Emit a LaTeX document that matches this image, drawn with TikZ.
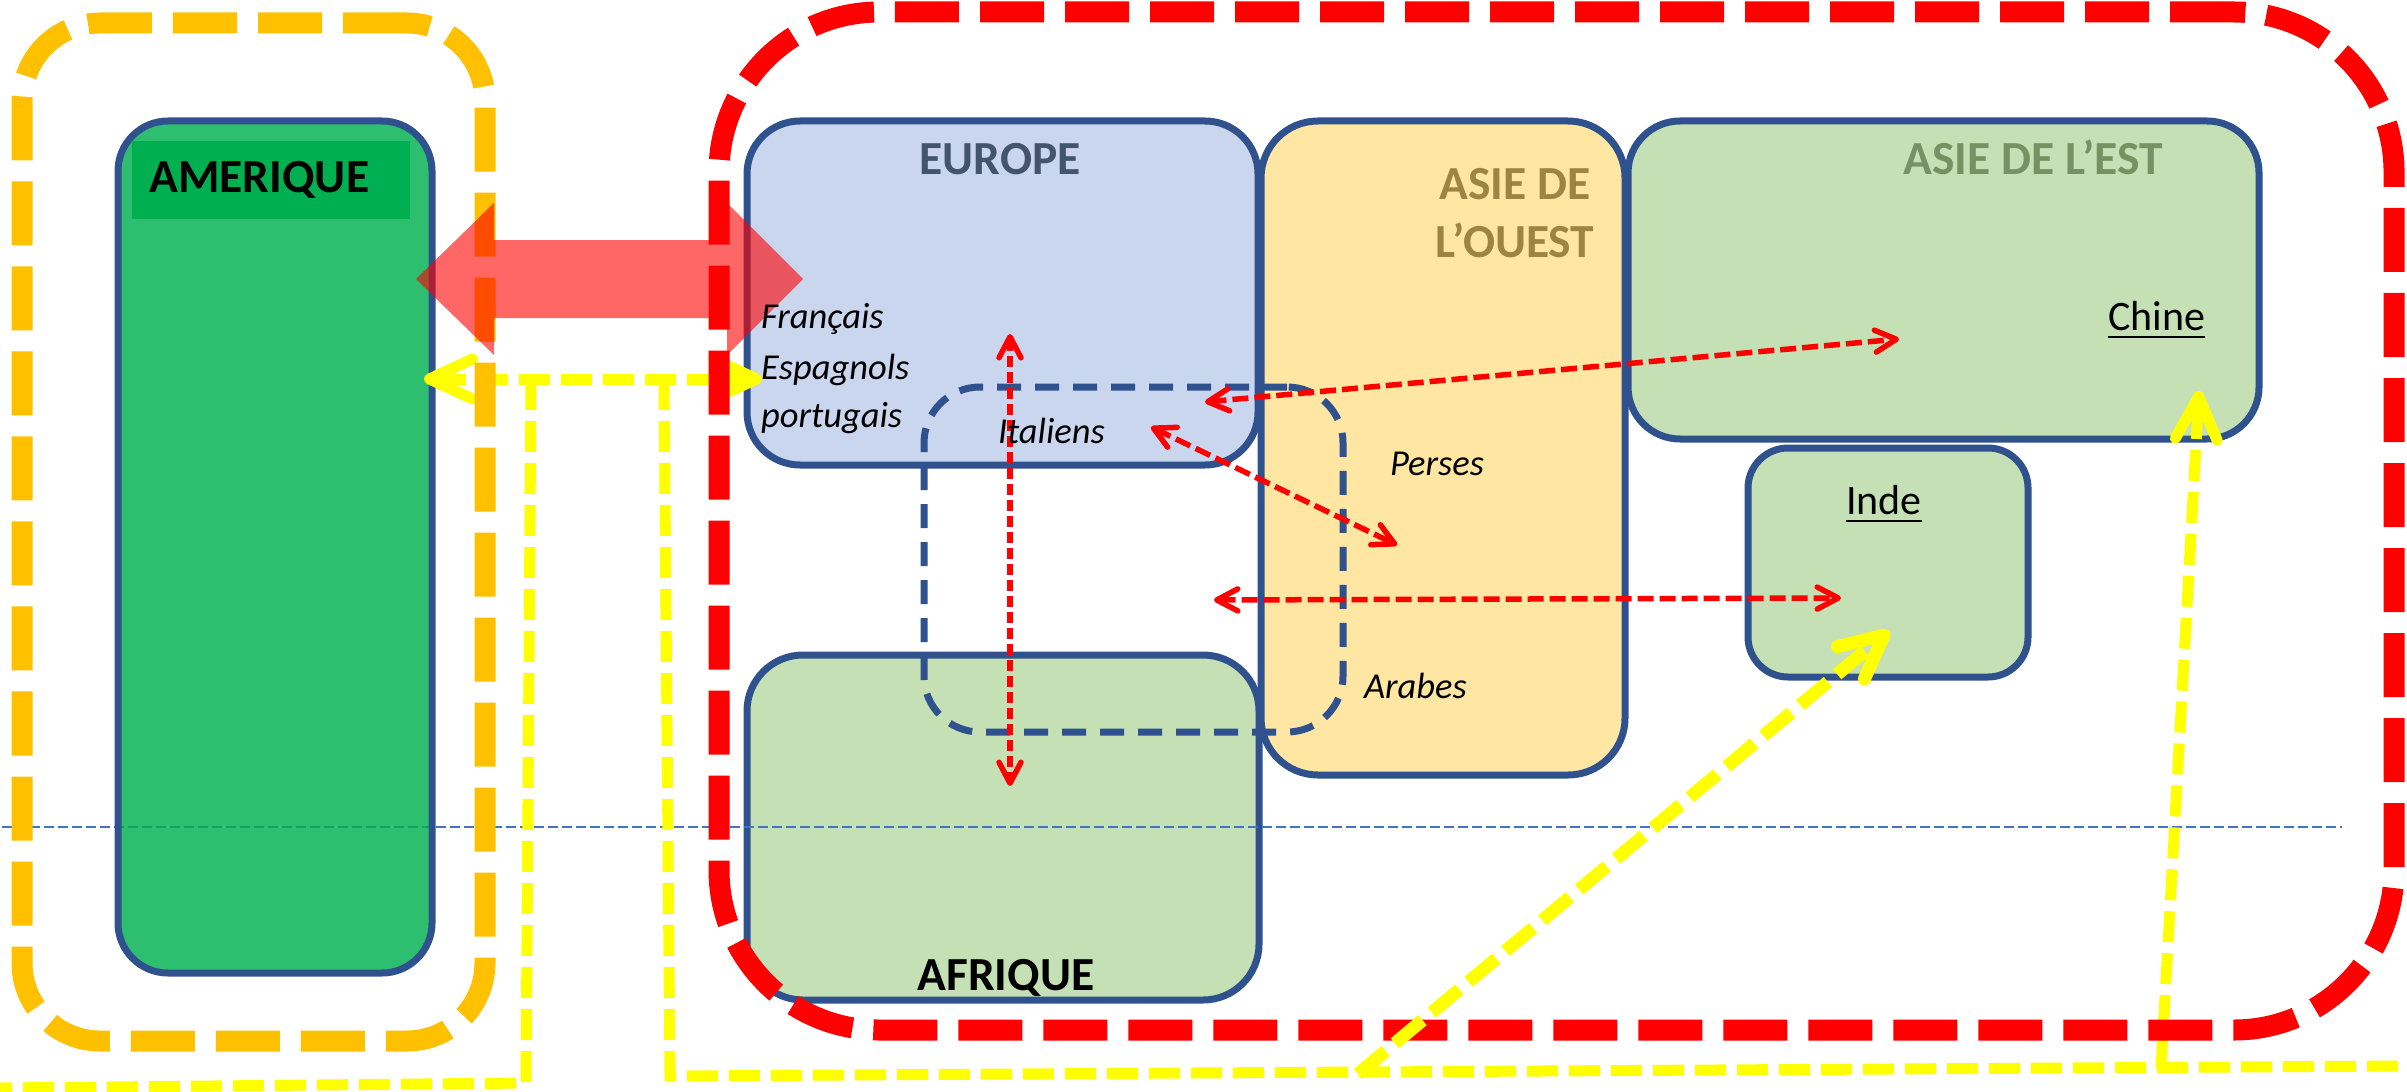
\documentclass[tikz,border=0pt]{standalone}
\usepackage{fontspec}
\setmainfont{Carlito}
\usepackage{tikz}
\usetikzlibrary{arrows.meta, fit}
\usepackage{xcolor}
\definecolor{boxblue}{RGB}{47,82,143}
\definecolor{europeblue}{RGB}{202,214,238}
\definecolor{ouestyellow}{RGB}{255,230,162}
\definecolor{lightgreen}{RGB}{197,224,180}
\definecolor{amergreen}{RGB}{0,176,80}
\definecolor{frameorange}{RGB}{255,192,0}
\definecolor{linkyellow}{RGB}{255,255,0}
\definecolor{europetext}{RGB}{68,84,106}
\definecolor{ouesttext}{RGB}{156,132,67}
\definecolor{esttext}{RGB}{118,146,98}
\definecolor{guideblue}{RGB}{68,114,196}
\tikzset{regionnode/.style={draw=boxblue, line width=1.4pt, inner sep=0pt},framenode/.style={line width=4.2pt, dash pattern=on 12.8pt off 4.2pt, inner sep=0pt}}
\tikzset{yellowlink/.style={draw=linkyellow, line width=2.2pt, dash pattern=on 6.2pt off 2.2pt},redlink/.style={draw=red, line width=1.1pt, dash pattern=on 3.2pt off 1.2pt, arrows={Straight Barb[round, length=4.2pt, width=4.4pt]-Straight Barb[round, length=4.2pt, width=4.4pt]}}}

\begin{document}
\begin{tikzpicture}[
        x=0.2pt, y=-0.2pt,
        yellowboth/.style={arrows={Straight Barb[round, length=8.6pt, width=8pt]-Straight Barb[round, length=8.6pt, width=8pt]}},
        yellowto/.style={arrows={-Straight Barb[round, length=8.6pt, width=8.4pt]}},
        titlenode/.style={font=\fontsize{9.5}{11.6}\selectfont\bfseries, inner sep=0pt},
        peoplenode/.style={font=\fontsize{7.3}{8.8}\selectfont\itshape, inner sep=0pt, anchor=base west},
        countrynode/.style={font=\fontsize{8.4}{10}\selectfont, inner sep=0pt, anchor=base west}
    ]
        \useasboundingbox (0,0) rectangle (2407,1091);
        % Regions
        \node[regionnode, fill=europeblue, rounded corners=10.6pt, fit={(747,121) (1258,465)}] (europe) {};
        \node[regionnode, fill=ouestyellow, rounded corners=11.4pt, fit={(1261,121) (1625,775)}] (ouest) {};
        \node[regionnode, fill=lightgreen, rounded corners=10.4pt, fit={(1628,121) (2259,439)}] (est) {};
        \node[regionnode, fill=lightgreen, rounded corners=8pt, fit={(1748,448) (2028,677)}] (inde) {};
        \node[regionnode, fill=lightgreen, rounded corners=11.2pt, fit={(747,655) (1259,1000)}] (afrique) {};
        % Guide line
        \draw[guideblue, line width=0.4pt, dash pattern=on 2pt off 0.8pt] (2,827) -- (2342,827);
        \node[regionnode, fill=amergreen, fill opacity=0.82, rounded corners=10pt, fit={(118,121) (432,973)}] (amerique) {};
        \node[fill=amergreen, anchor=north west, minimum height=15.6pt, text width=48.6pt, inner xsep=3.5pt, inner ysep=0pt, align=left, font=\fontsize{9.5}{11.6}\selectfont\bfseries] (ameriquelabel) at (131,140) {AMERIQUE};
        % Yellow links
        \coordinate (amerEast) at (424,379);
        \coordinate (europeWest) at (762,379);
        \coordinate (teeA) at (531,379);
        \coordinate (teeB) at (664,379);
        \coordinate (cornerA) at (526,1083);
        \coordinate (cornerB) at (670,1076);
        \coordinate (leftEnd) at (0,1088);
        \coordinate (rightEnd) at (2407,1066);
        \coordinate (chineFoot) at (2161,1068);
        \coordinate (chineTip) at (2199,391);
        \coordinate (indeFoot) at (1358,1074);
        \coordinate (indeTip) at (1889,631);
        \draw[yellowlink] (teeA) -- (cornerA) -- (leftEnd);
        \draw[yellowlink] (teeB) -- (cornerB) -- (rightEnd);
        \draw[yellowlink, yellowboth] (amerEast) -- (europeWest);
        \draw[yellowlink, yellowto] (chineFoot) -- (chineTip);
        % Frames
        \node[framenode, draw=frameorange, rounded corners=15.6pt, fit={(22,23) (485,1041)}] (ameriqueframe) {};
        \node[framenode, draw=red, rounded corners=32pt, fit={(719,12) (2394,1030)}] (oldworldframe) {};
        \draw[yellowlink, line width=2.6pt, dash pattern=on 7.2pt off 2.4pt, yellowto] (indeFoot) -- (indeTip);
        % Exchange arrow
        \fill[red, fill opacity=0.6] (416,279) -- (494,203) -- (494,240) -- (727,240) -- (727,203) -- (803,279) -- (727,355) -- (727,318) -- (494,318) -- (494,355) -- cycle;
        % Mediterranean
        \node[draw=boxblue, line width=1.4pt, dash pattern=on 4.8pt off 2.8pt, rounded corners=11.2pt, inner sep=0pt, fit={(924,387) (1343,732)}] (mediterranee) {};
        % Red links
        \coordinate (europeUp) at (1010,334);
        \coordinate (afriqueDown) at (1010,786);
        \coordinate (italiensEnd) at (1151,427);
        \coordinate (persesEnd) at (1397,545);
        \coordinate (europeEnd) at (1205,402);
        \coordinate (chineEnd) at (1899,339);
        \coordinate (arabesEnd) at (1214,600);
        \coordinate (indeEnd) at (1841,598);
        \draw[redlink, dash pattern=on 2.2pt off 1pt] (europeUp) -- (afriqueDown);
        \draw[redlink] (italiensEnd) -- (persesEnd);
        \draw[redlink] (europeEnd) -- (chineEnd);
        \draw[redlink] (arabesEnd) -- (indeEnd);
        % Titles
        \node[titlenode, text=europetext, anchor=base] (europetitle) at (1000,175) {EUROPE};
        \node[titlenode, text=ouesttext, align=center, anchor=north] (ouesttitle) at (1515,167) {ASIE DE\\L'OUEST};
        \node[titlenode, text=esttext, anchor=base] (esttitle) at (2033,175) {ASIE DE L'EST};
        \node[titlenode, anchor=base] (afriquetitle) at (1006,990) {AFRIQUE};
        % Peoples
        \node[peoplenode] (francais) at (760,328) {Français};
        \node[peoplenode] (espagnols) at (760,379) {Espagnols};
        \node[peoplenode] (portugais) at (760,427) {portugais};
        \node[peoplenode] (italiens) at (997,443) {Italiens};
        \node[peoplenode] (perses) at (1389,475) {Perses};
        \node[peoplenode] (arabes) at (1363,698) {Arabes};
        \node[countrynode] (chine) at (2107,330) {\underline{Chine}};
        \node[countrynode] (indetext) at (1845,514) {\underline{Inde}};
    \end{tikzpicture}
\end{document}
